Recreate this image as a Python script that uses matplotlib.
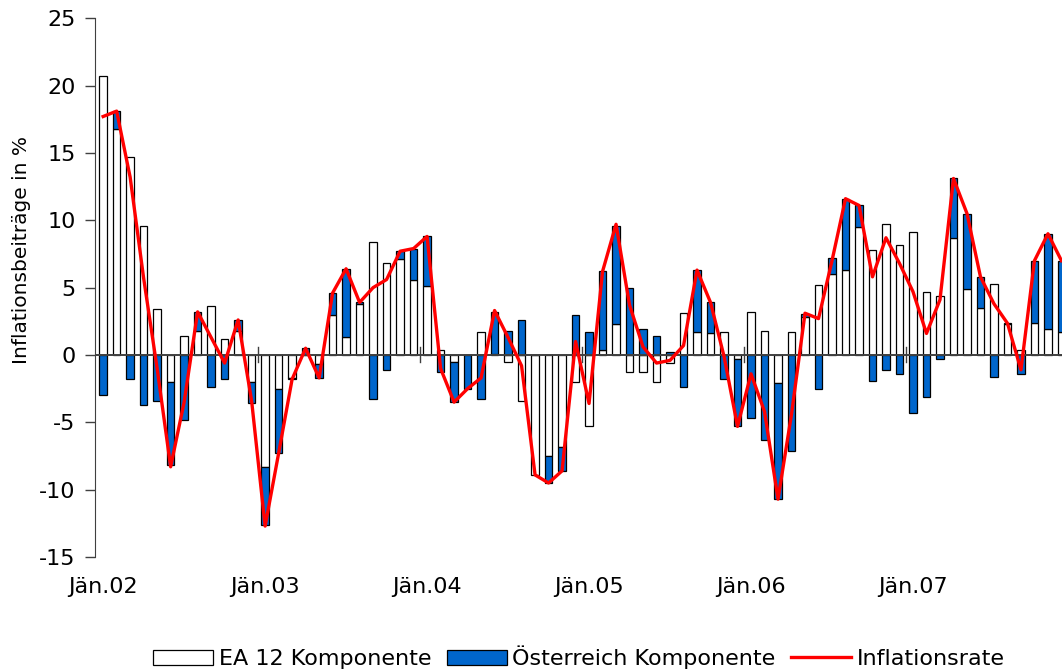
import numpy as np
import matplotlib
matplotlib.use("Agg")
import matplotlib.pyplot as plt
from matplotlib.patches import Patch
from matplotlib.lines import Line2D

plt.rcParams['font.family'] = ['DejaVu Sans']

# monthly values Jan 2002 - Dec 2007
ea12 = [20.7, 16.8, 14.7, 9.6, 3.4, -2.0, 1.4, 1.8, 3.6, 1.2, 1.8, -2.0,
        -8.35, -2.5, -1.7, 0.0, -0.7, 3.0, 1.3, 3.8, 8.4, 6.8, 7.1, 5.6,
        5.1, 0.4, -0.5, 0.0, 1.7, 0.1, -0.5, -3.4, -8.9, -7.5, -6.8, -2.0,
        -5.3, 0.4, 2.3, -1.3, -1.3, -2.0, -0.6, 3.1, 1.7, 1.6, 1.7, -0.3,
        3.2, 1.8, -2.1, 1.7, 2.8, 5.2, 6.0, 6.3, 9.5, 7.8, 9.7, 8.2,
        9.1, 4.7, 4.4, 8.7, 4.9, 3.5, 5.3, 2.3, 0.4, 2.4, 1.9, 1.7]
austria = [-3.0, 1.3, -1.8, -3.7, -3.4, -6.2, -4.8, 1.4, -2.4, -1.8, 0.8, -1.6,
           -4.27, -4.8, -0.1, 0.5, -1.0, 1.6, 5.1, 0.1, -3.3, -1.1, 0.6, 2.3,
           3.7, -1.3, -3.0, -2.5, -3.3, 3.1, 1.8, 2.6, 0.0, -2.0, -1.8, 3.0,
           1.7, 5.8, 7.3, 5.0, 1.9, 1.4, 0.2, -2.4, 4.6, 2.3, -1.8, -5.0,
           -4.7, -6.3, -8.6, -7.1, 0.25, -2.5, 1.2, 5.3, 1.6, -1.9, -1.1, -1.4,
           -4.3, -3.1, -0.3, 4.4, 5.6, 2.3, -1.6, 0.05, -1.4, 4.6, 7.1, 5.3]
inflation = [17.7, 18.1, 13.2, 5.7, -1.0, -8.3, -3.5, 3.2, 1.3, -0.6, 2.6, -3.4,
             -12.7, -7.3, -1.8, 0.5, -1.7, 4.6, 6.4, 3.9, 5.0, 5.6, 7.7, 7.9,
             8.8, -1.0, -3.5, -2.5, -1.7, 3.3, 1.3, -0.8, -8.9, -9.5, -8.6, 1.0,
             -3.6, 6.2, 9.7, 3.7, 0.6, -0.6, -0.4, 0.7, 6.3, 3.9, -0.1, -5.3,
             -1.4, -4.2, -10.7, -4.4, 3.1, 2.7, 7.0, 11.6, 11.1, 5.8, 8.7, 6.8,
             4.7, 1.6, 4.1, 13.1, 10.5, 5.8, 3.8, 2.35, -1.1, 7.0, 9.0, 7.0]
year_labels = ["Jän.02", "Jän.03", "Jän.04", "Jän.05", "Jän.06", "Jän.07"]

blue = "#0066CC"

ea12 = np.array(ea12)
austria = np.array(austria)
x = np.arange(len(ea12))

fig = plt.figure(figsize=(10.62, 6.72), dpi=100)
ax = fig.add_axes([0.0895, 0.171, 1.0 - 0.0895, 0.973 - 0.171])

# stacked: same sign stacks on EA, opposite sign starts at 0
bottom_at = np.where(np.sign(austria) == np.sign(ea12), ea12, 0.0)
ax.bar(x, ea12, width=0.55, color="white", edgecolor="black", linewidth=0.9, zorder=2)
ax.bar(x, austria, bottom=bottom_at, width=0.55, color=blue, edgecolor="black",
       linewidth=0.9, zorder=2)
ax.axhline(0, color="#404040", linewidth=1.4, zorder=3)
ax.plot(x, inflation, color="#FF0000", linewidth=2.4, zorder=4)

# year separators on the zero line
for b in np.arange(11.5, len(x), 12):
    ax.plot([b, b], [-0.55, 0.6], color="#404040", linewidth=1.0, zorder=3)

ax.set_xlim(-0.6, 71.04)
ax.set_ylim(-15, 25)
ax.set_yticks(np.arange(-15, 26, 5))
ax.set_yticklabels([str(v) for v in range(-15, 26, 5)])
ax.set_xticks(x[::12])
ax.set_xticklabels(year_labels)
ax.tick_params(axis="x", length=0, pad=14, labelsize=16)
ax.tick_params(axis="y", length=7, width=1, color="#404040", pad=7, labelsize=16)

for s in ["top", "right", "bottom"]:
    ax.spines[s].set_visible(False)
ax.spines["left"].set_color("#404040")

ax.set_ylabel("Inflationsbeiträge in %", fontsize=14.5)
ax.yaxis.set_label_coords(-0.066, 0.57)

handles = [Patch(facecolor="white", edgecolor="black", linewidth=0.9),
           Patch(facecolor=blue, edgecolor="black", linewidth=0.9),
           Line2D([0], [0], color="#FF0000", linewidth=2.4)]
fig.legend(handles, ["EA 12 Komponente", "Österreich Komponente", "Inflationsrate"],
           loc="center", bbox_to_anchor=(0.545, 0.022), ncol=3, frameon=False,
           fontsize=16, handlelength=2.7, handleheight=0.65, handletextpad=0.25,
           columnspacing=0.7, borderaxespad=0)

fig.savefig("out.png", dpi=100)
